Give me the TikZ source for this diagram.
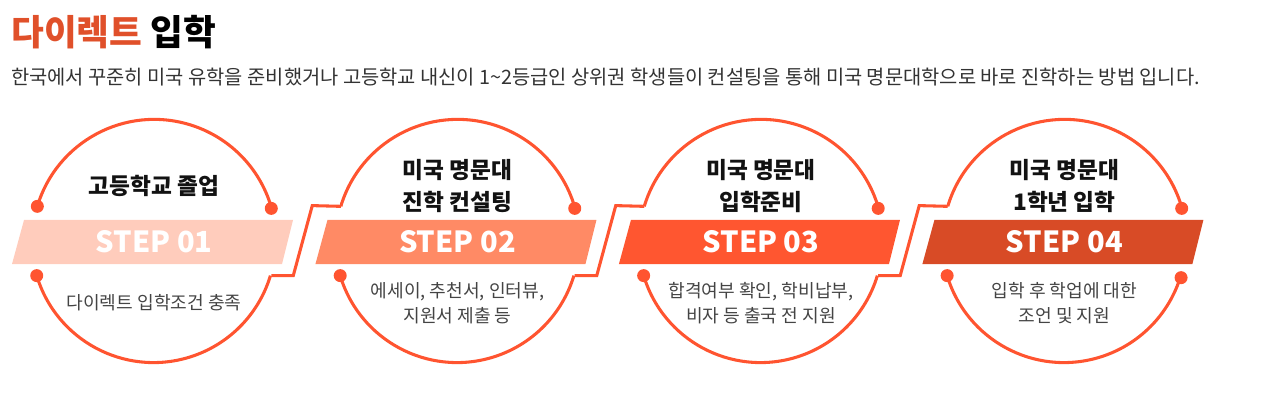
\documentclass[tikz,border=0pt]{standalone}
\usepackage{fontspec}
\setmainfont{Noto Sans CJK KR}
\usetikzlibrary{positioning}
\definecolor{wirered}{HTML}{FF5430}
\definecolor{titleorange}{HTML}{E0502A}
\definecolor{bandA}{HTML}{FFCCBC}
\definecolor{bandB}{HTML}{FF8A65}
\definecolor{bandC}{HTML}{FF5630}
\definecolor{bandD}{HTML}{D84B26}
\definecolor{desctext}{HTML}{444444}
\tikzset{
x=0.75pt, y=0.75pt, % one unit is one pixel of the reference
node distance=44.6pt, % gap between two rings
ring/.style={circle, minimum size=183pt, inner sep=0pt, outer sep=0pt},
wire/.style={draw=wirered, line width=2.3pt, line join=miter},
dot/.style={fill=wirered},
steptxt/.style={text=white, font=\fontsize{21.8}{26}\selectfont\bfseries},
headtxt/.style={align=center, text=black!93, font=\fontsize{17}{24.5}\selectfont\bfseries, yshift=42pt},
desctxt/.style={align=center, text=desctext, font=\fontsize{13.6}{19}\selectfont, yshift=-45.75pt},
}
\newcommand{\band}[2]{\fill[#2] ([shift={(-142,-22)}]#1.center) -- ++(270,0) -- ++(11,44) -- ++(-269,0) -- cycle;}
\newcommand{\link}[2]{\draw[wire] (#1.-16.7) -- ++(22,0) -- ++(19,70) -- (#2.163.3);}

\begin{document}
\begin{tikzpicture}
  \useasboundingbox (0,0) rectangle (1280,400);
  \node[anchor=west, inner sep=0pt, font=\fontsize{26.7}{30}\selectfont\bfseries] (title) at (11,368)
       {\textcolor{titleorange}{다이렉트} 입학};
  \node[anchor=west, inner sep=0pt, text=black!80, font=\fontsize{14.85}{17}\selectfont] (sub) at (11,323)
       {한국에서 꾸준히 미국 유학을 준비했거나 고등학교 내신이 1\textasciitilde2등급인 상위권 학생들이 컨설팅을 통해 미국 명문대학으로 바로 진학하는 방법 입니다.};

  % rings
  \node[ring] (r1) at (154,158) {};
  \node[ring, right=of r1] (r2) {};
  \node[ring, right=of r2] (r3) {};
  \node[ring, right=of r3] (r4) {};

  % upper and lower arcs
  \foreach \r in {r1,r2,r3,r4}{
    \draw[wire] (\r.163.3) arc[start angle=163.3, end angle=16.7, radius=122];
    \draw[wire] (\r.196.7) arc[start angle=196.7, end angle=343.3, radius=122];
  }
  \link{r1}{r2}
  \link{r2}{r3}
  \link{r3}{r4}

  % end dots
  \fill[dot] (r1.163.3) circle[radius=6.5];
  \fill[dot] (r1.16.7) circle[radius=6.5];
  \fill[dot] (r1.196.7) circle[radius=6.5];
  \fill[dot] (r2.16.7) circle[radius=6.5];
  \fill[dot] (r2.196.7) circle[radius=6.5];
  \fill[dot] (r3.16.7) circle[radius=6.5];
  \fill[dot] (r3.196.7) circle[radius=6.5];
  \fill[dot] (r4.16.7) circle[radius=6.5];
  \fill[dot] (r4.196.7) circle[radius=6.5];
  \fill[dot] (r4.343.3) circle[radius=6.5];

  % step bands
  \band{r1}{bandA}
  \band{r2}{bandB}
  \band{r3}{bandC}
  \band{r4}{bandD}
  \node[steptxt] (s1) at (r1) {STEP 01};
  \node[steptxt] (s2) at (r2) {STEP 02};
  \node[steptxt] (s3) at (r3) {STEP 03};
  \node[steptxt] (s4) at (r4) {STEP 04};

  \node[headtxt] (h1) at (r1) {고등학교 졸업};
  \node[headtxt] (h2) at (r2) {미국 명문대\\진학 컨설팅};
  \node[headtxt] (h3) at (r3) {미국 명문대\\입학준비};
  \node[headtxt] (h4) at (r4) {미국 명문대\\1학년 입학};

  \node[desctxt] (d1) at (r1) {다이렉트 입학조건 충족};
  \node[desctxt] (d2) at (r2) {에세이, 추천서, 인터뷰,\\지원서 제출 등};
  \node[desctxt] (d3) at (r3) {합격여부 확인, 학비납부,\\비자 등 출국 전 지원};
  \node[desctxt] (d4) at (r4) {입학 후 학업에 대한\\조언 및 지원};
\end{tikzpicture}
\end{document}
